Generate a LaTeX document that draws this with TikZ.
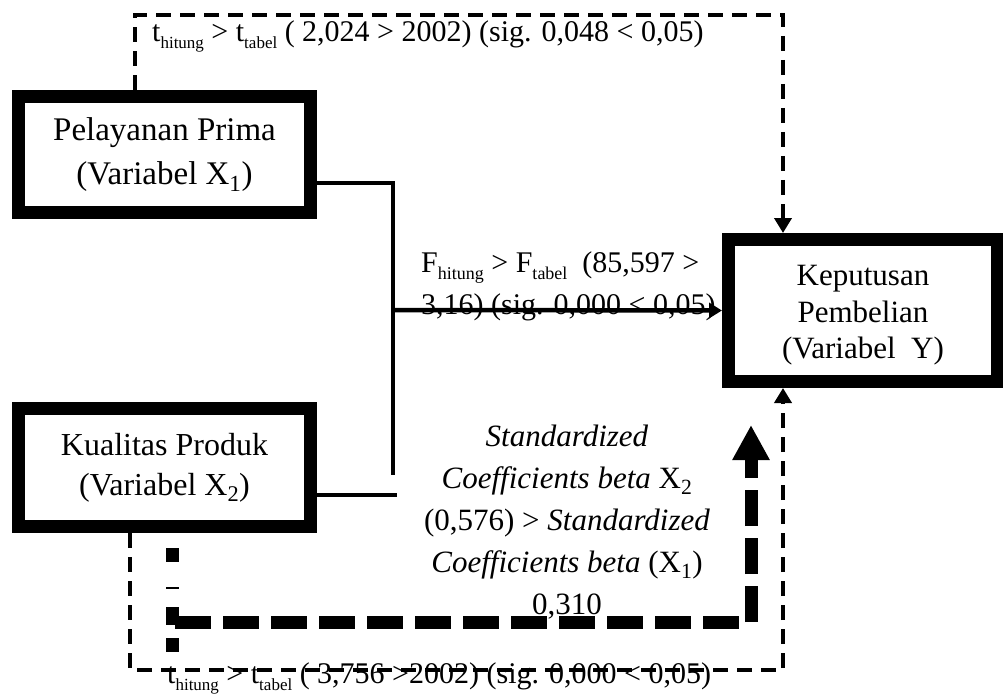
\documentclass[tikz,border=0pt]{standalone}
\usepackage{fontspec}
\setmainfont{Liberation Serif}
\usetikzlibrary{arrows.meta}
\newcommand{\sbs}[1]{\textsubscript{#1}}
\newcommand{\lsub}[2][17]{\raisebox{-7pt}{\fontsize{#1}{#1}\selectfont #2}}
\begin{document}
\begin{tikzpicture}[x=1pt,y=-1pt,
  box/.style={draw, line width=13pt, rectangle, inner sep=0pt, align=center},
  lbl/.style={inner sep=0pt, font=\fontsize{30}{42}\selectfont},
  betalbl/.style={inner sep=0pt, align=center, font=\fontsize{31}{42}\selectfont},
  thindash/.style={line width=4pt, dash pattern=on 15pt off 9pt},
  thickdash/.style={line width=13pt, dash pattern=on 36pt off 12pt},
  brokendash/.style={line width=13pt, dash pattern=on 14pt off 25pt on 2pt off 18pt on 18pt off 13pt on 14pt off 40pt},
  solidline/.style={line width=4.5pt},
  thintip/.style={-{Triangle[width=17pt,length=15pt]}},
  solidtip/.style={-{Triangle[width=15pt,length=13pt]}},
  bigtip/.style={-{Triangle[width=35pt,length=35pt]}}
]
\useasboundingbox (0,0) rectangle (1003,695);

% boxes
\node[box, minimum width=292pt, minimum height=116pt,
      font=\fontsize{33}{44}\selectfont] (x1) at (164.5,154.5)
  {Pelayanan Prima\\(Variabel X\sbs{1})};
\node[box, minimum width=292pt, minimum height=118pt,
      font=\fontsize{32}{40}\selectfont] (x2) at (164.5,467.5)
  {Kualitas Produk\\(Variabel X\sbs{2})};
\node[box, minimum width=269pt, minimum height=142pt,
      font=\fontsize{31}{36.5}\selectfont] (y) at (863,310.5)
  {\rule{0pt}{30pt}Keputusan\\Pembelian\\(Variabel~ Y)};

% coordinates
\coordinate (ta) at (135,15);
\coordinate (tb) at (783,15);
\coordinate (j1) at (393,183);
\coordinate (j2) at (393,475);
\coordinate (jf) at (393,310);
\coordinate (k) at (397,495);
\coordinate (ba) at (130,670);
\coordinate (bb) at (783,670);
\coordinate (da) at (175,622);
\coordinate (db) at (751,622);
\coordinate (dt) at (751,425);
\coordinate (va) at (172,548);
\coordinate (vb) at (172,652);

% top dashed path X1 -> Y
\draw[thindash, thintip] (ta |- x1.north) -- (ta) -- (tb) -- (tb |- y.north);

% solid joint and F arrow
\draw[solidline] (x1.east |- j1) -- (j1) -- (j2);
\draw[solidline] (x2.east |- k) -- (k);
\draw[solidline, solidtip] (jf) -- (y.west);

% bottom thin dashed path X2 -> Y
\draw[thindash, thintip] (ba |- x2.south) -- (ba) -- (bb) -- (bb |- y.south);

% thick dashed path
\draw[brokendash] (va) -- (vb);
\draw[thickdash, bigtip] (da) -- (db) -- (dt);

% labels
\node[lbl, anchor=base west] (tl) at (152,42)
  {t\lsub{hitung} > t\lsub{tabel} ( 2,024 > 2002) (sig. 0,048 < 0,05)};
\node[lbl, anchor=base west] (bl) at (167,683)
  {t\lsub{hitung} > t\lsub{tabel} ( 3,756 >2002) (sig. 0,000 < 0,05)};
\node[lbl, align=left, anchor=west] (fl) at (421,286)
  {F\lsub[18]{hitung} > F\lsub[18]{tabel}~ (85,597 >\\3,16) (sig. 0,000 < 0,05)};
\node[betalbl] (bt) at (567,522.5)
  {\textit{Standardized}\\\textit{Coefficients beta} X\sbs{2}\\(0,576) > \textit{Standardized}\\\textit{Coefficients beta} (X\sbs{1})\\0,310};
\end{tikzpicture}
\end{document}
